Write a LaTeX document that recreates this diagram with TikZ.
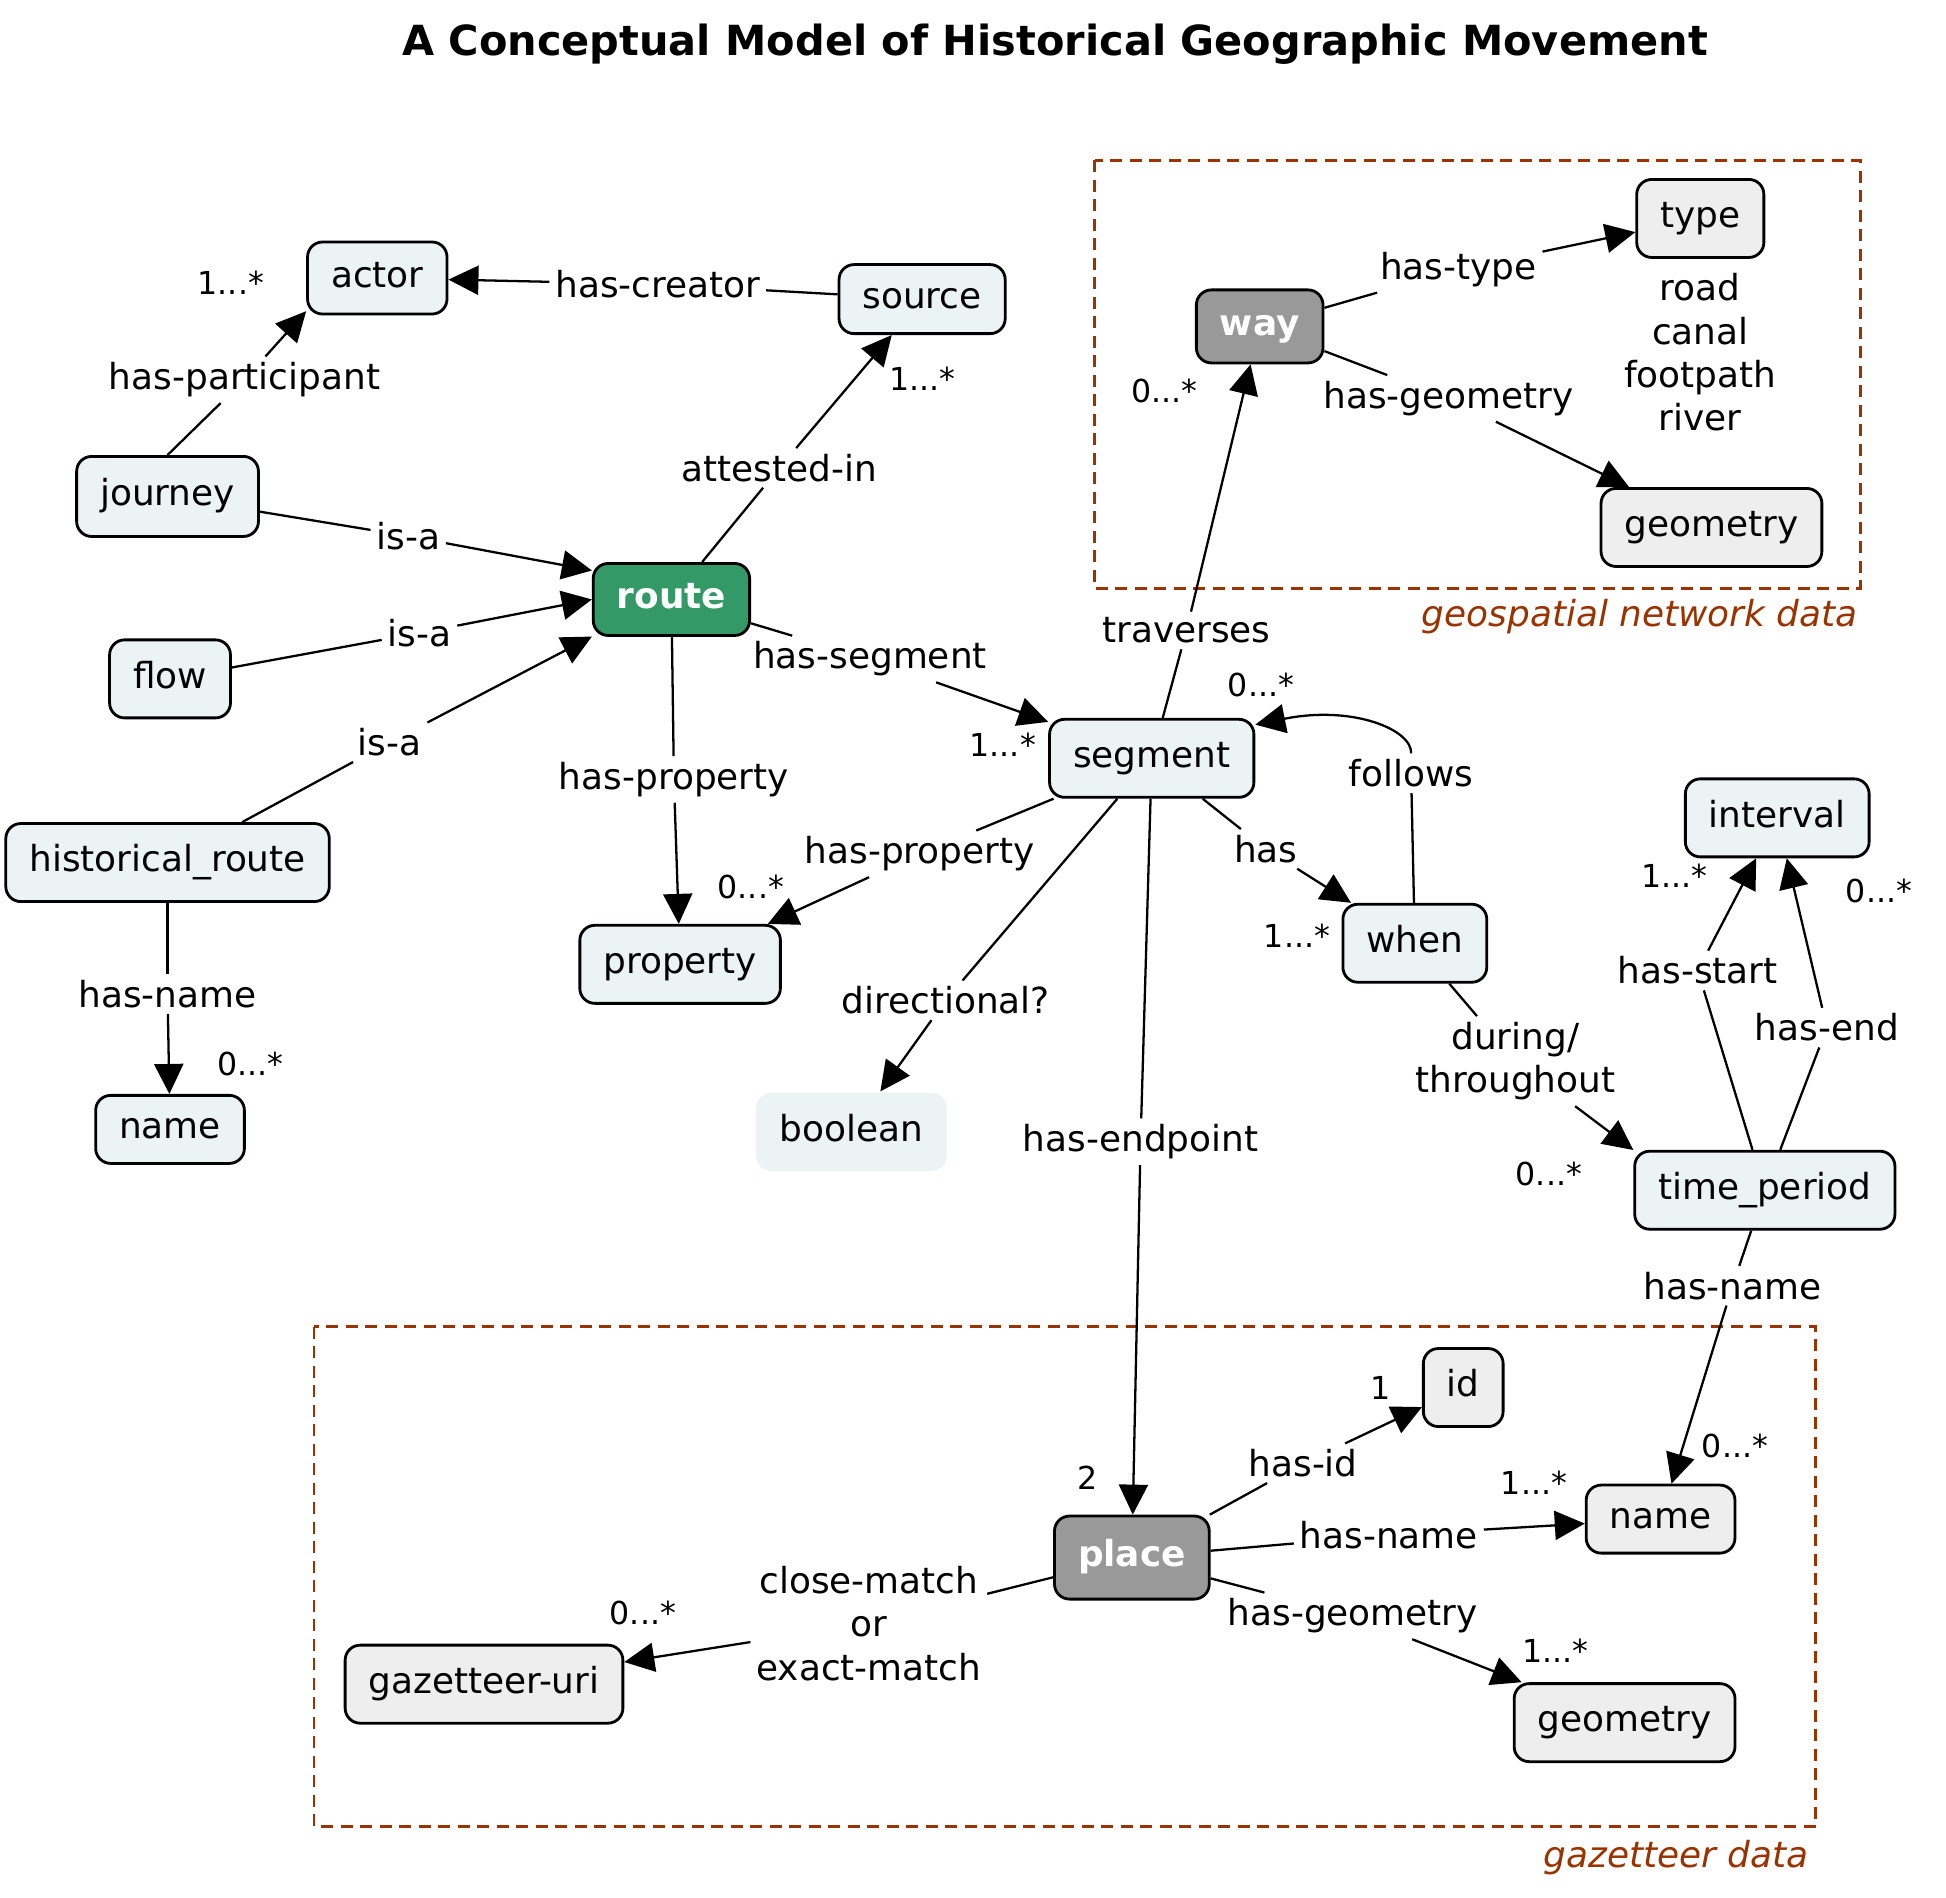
\documentclass[tikz,border=0pt]{standalone}
\usepackage{fontspec}
\setmainfont{DejaVu Sans}
\usetikzlibrary{arrows.meta}
\definecolor{fillA}{HTML}{EBF3F5}
\definecolor{fillB}{HTML}{EEEEEE}
\definecolor{routeC}{HTML}{339966}
\definecolor{hubC}{HTML}{999999}
\definecolor{zoneC}{HTML}{993300}
\newcommand{\lblsize}{\fontsize{10.2}{12.35}\selectfont}
\newcommand{\cardsize}{\fontsize{9}{11}\selectfont}
\tikzset{
  cls/.style={draw, line width=0.8pt, rounded corners=0.15cm, fill=fillA, minimum height=0.78cm, inner xsep=0.235cm, inner ysep=0pt, text height=7.4pt, text depth=2.2pt, font=\lblsize},
  ext/.style={cls, fill=fillB},
  hub/.style={cls, fill=hubC, text=white, font=\lblsize\bfseries},
  lbl/.style={inner sep=1.5pt, font=\lblsize, align=center},
  card/.style={inner sep=0pt, font=\cardsize},
  ln/.style={line width=0.65pt},
  arr/.style={ln, -{Triangle[length=0.3cm, width=0.29cm]}},
  zone/.style={draw=zoneC, dash pattern=on 0.12cm off 0.075cm, line width=0.8pt},
  zonetxt/.style={font=\lblsize\itshape, text=zoneC, anchor=east, inner sep=0pt},
}

\begin{document}
\begin{tikzpicture}[x=0.012411cm, y=-0.012411cm]
  \useasboundingbox (0,0) rectangle (1568,1529);
  \node[font=\fontsize{11.8}{14}\selectfont\bfseries] (title) at (850,36) {A Conceptual Model of Historical Geographic Movement};

  \draw[zone] (882,129) rectangle (1499,474);
  \draw[zone] (253,1069) rectangle (1463,1472);
  \node[zonetxt] (geozone) at (1497,497) {geospatial network data};
  \node[zonetxt] (gazzone) at (1458,1497) {gazetteer data};

  \node[cls, minimum height=0.72cm] (actor) at (304,224) {actor};
  \node[cls, minimum height=0.69cm] (source) at (743,241) {source};
  \node[cls, minimum height=0.8cm] (journey) at (135,400) {journey};
  \node[hub, fill=routeC, minimum height=0.72cm] (route) at (541,483) {route};
  \node[cls] (flow) at (137,547) {flow};
  \node[cls] (histroute) at (135,695) {historical\_route};
  \node[cls, minimum height=0.68cm] (namehr) at (137,910) {name};
  \node[cls] (property) at (548,777) {property};
  \node[cls, draw=none] (boolean) at (686,912) {boolean};
  \node[cls] (segment) at (928,611) {segment};
  \node[cls] (when) at (1140,760) {when};
  \node[cls] (interval) at (1432,659) {interval};
  \node[cls] (period) at (1422,959) {time\_period};
  \node[hub, minimum height=0.73cm] (way) at (1015,263) {way};
  \node[ext] (type) at (1370,176) {type};
  \node[lbl] (typevals) at (1370,284) {road\\canal\\footpath\\river};
  \node[ext] (wgeom) at (1379,425) {geometry};
  \node[ext] (idn) at (1179,1118) {id};
  \node[ext, minimum height=0.68cm] (pname) at (1338,1224) {name};
  \node[hub, minimum height=0.83cm] (place) at (912,1255) {place};
  \node[ext] (gazuri) at (390,1357) {gazetteer-uri};
  \node[ext] (pgeom) at (1309,1388) {geometry};

  \node[lbl] (lPart) at (197,306) {has-participant};
  \draw[ln] (journey.north) -- (lPart);
  \draw[arr] (lPart) -- (actor.205);
  \node[lbl] (lCreator) at (530,229) {has-creator};
  \draw[ln] (source) -- (lCreator);
  \draw[arr] (lCreator) -- (actor);
  \node[lbl] (lAttest) at (628,377) {attested-in};
  \draw[ln] (route) -- (lAttest);
  \draw[arr] (lAttest) -- (source);
  \node[lbl] (lIsaJ) at (329,432) {is-a};
  \draw[ln] (journey) -- (lIsaJ);
  \draw[arr] (lIsaJ) -- (route.160);
  \node[lbl] (lIsaF) at (338,510) {is-a};
  \draw[ln] (flow) -- (lIsaF);
  \draw[arr] (lIsaF) -- (route.west);
  \node[lbl] (lIsaH) at (314,598) {is-a};
  \draw[ln] (histroute) -- (lIsaH);
  \draw[arr] (lIsaH) -- (route.205);
  \node[lbl] (lSeg) at (701,531) {has-segment};
  \draw[ln] (route) -- (lSeg);
  \draw[arr] (lSeg) -- (segment);
  \node[lbl] (lPropR) at (543,628) {has-property};
  \draw[ln] (route) -- (lPropR);
  \draw[arr] (lPropR) -- (property);
  \node[lbl] (lPropS) at (741,688) {has-property};
  \draw[ln] (segment) -- (lPropS);
  \draw[arr] (lPropS) -- (property);
  \node[lbl] (lDir) at (762,806) {directional?};
  \draw[ln] (segment) -- (lDir);
  \draw[arr] (lDir) -- (boolean);
  \node[lbl] (lEndp) at (919,920) {has-endpoint};
  \draw[ln] (segment) -- (lEndp);
  \draw[arr] (lEndp) -- (place);
  \node[lbl] (lHas) at (1020,684) {has};
  \draw[ln] (segment) -- (lHas);
  \draw[arr] (lHas) -- (when);
  \node[lbl] (lFollows) at (1137,623) {follows};
  \draw[ln] (when) -- (lFollows);
  \draw[arr] (lFollows.north) .. controls (1138,588) and (1090,568) .. (segment.18);
  \node[lbl] (lTrav) at (956,508) {traverses};
  \draw[ln] (segment) -- (lTrav);
  \draw[arr] (lTrav) -- (way);
  \node[lbl] (lType) at (1175,217) {has-type};
  \draw[ln] (way) -- (lType);
  \draw[arr] (lType) -- (type);
  \node[lbl] (lWGeom) at (1167,321) {has-geometry};
  \draw[ln] (way) -- (lWGeom);
  \draw[arr] (lWGeom) -- (wgeom);
  \node[lbl] (lDuring) at (1221,855) {during/\\throughout};
  \draw[ln] (when) -- (lDuring);
  \draw[arr] (lDuring) -- (period.163);
  \node[lbl] (lStart) at (1368,782) {has-start};
  \draw[ln] (period) -- (lStart);
  \draw[arr] (lStart) -- (interval);
  \node[lbl] (lEndI) at (1472,828) {has-end};
  \draw[ln] (period) -- (lEndI);
  \draw[arr] (lEndI) -- (interval);
  \node[lbl] (lTPName) at (1396,1036) {has-name};
  \draw[ln] (period) -- (lTPName);
  \draw[arr] (lTPName) -- (pname);
  \node[lbl] (lHRName) at (135,801) {has-name};
  \draw[ln] (histroute) -- (lHRName);
  \draw[arr] (lHRName) -- (namehr);
  \node[lbl] (lId) at (1050,1179) {has-id};
  \draw[ln] (place) -- (lId);
  \draw[arr] (lId) -- (idn);
  \node[lbl] (lPlName) at (1119,1237) {has-name};
  \draw[ln] (place) -- (lPlName);
  \draw[arr] (lPlName) -- (pname);
  \node[lbl] (lPlGeom) at (1090,1302) {has-geometry};
  \draw[ln] (place) -- (lPlGeom);
  \draw[arr] (lPlGeom) -- (pgeom);
  \node[lbl] (lMatch) at (700,1308) {close-match\\or\\exact-match};
  \draw[ln] (place) -- (lMatch);
  \draw[arr] (lMatch) -- (gazuri);

  \node[card] (mActor) at (186,228) {1...*};
  \node[card] (mSource) at (743,305) {1...*};
  \node[card] (mWay) at (938,315) {0...*};
  \node[card] (mSegA) at (808,600) {1...*};
  \node[card] (mSegB) at (1016,552) {0...*};
  \node[card] (mProp) at (605,715) {0...*};
  \node[card] (mWhen) at (1045,754) {1...*};
  \node[card] (mIntA) at (1349,706) {1...*};
  \node[card] (mIntB) at (1514,718) {0...*};
  \node[card] (mNameHR) at (202,857) {0...*};
  \node[card] (mPeriod) at (1248,946) {0...*};
  \node[card] (mPNameA) at (1398,1165) {0...*};
  \node[card] (mPNameB) at (1236,1195) {1...*};
  \node[card] (mId) at (1112,1118) {1};
  \node[card] (mPlace) at (876,1191) {2};
  \node[card] (mGaz) at (518,1300) {0...*};
  \node[card] (mPGeom) at (1253,1330) {1...*};
\end{tikzpicture}
\end{document}
